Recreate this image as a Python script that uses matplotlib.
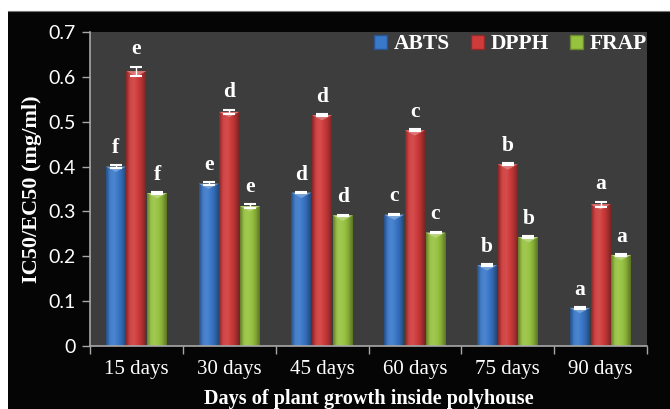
import numpy as np
import matplotlib
matplotlib.use("Agg")
import matplotlib.pyplot as plt
from matplotlib.colors import LinearSegmentedColormap, to_rgb
from matplotlib.patches import Patch, Polygon

# ---- data ----
categories = ["15 days", "30 days", "45 days", "60 days", "75 days", "90 days"]
series = ["ABTS", "DPPH", "FRAP"]
abts = [0.400, 0.362, 0.342, 0.293, 0.180, 0.085]
dpph = [0.613, 0.522, 0.515, 0.481, 0.405, 0.316]
frap = [0.341, 0.312, 0.291, 0.253, 0.243, 0.203]
abts_err = [0.004, 0.003, 0.002, 0.002, 0.002, 0.002]
dpph_err = [0.010, 0.005, 0.002, 0.002, 0.002, 0.006]
frap_err = [0.002, 0.005, 0.002, 0.002, 0.002, 0.002]
abts_letters = ["f", "e", "d", "c", "b", "a"]
dpph_letters = ["e", "d", "d", "c", "b", "a"]
frap_letters = ["f", "e", "d", "c", "b", "a"]
yticks = [0, 0.1, 0.2, 0.3, 0.4, 0.5, 0.6, 0.7]
xlabel = "Days of plant growth inside polyhouse"
ylabel = "IC50/EC50 (mg/ml)"

values = [abts, dpph, frap]
errors = [abts_err, dpph_err, frap_err]
letters = [abts_letters, dpph_letters, frap_letters]
base_colors = ["#3a78c9", "#cf3b3b", "#97c23f"]

SERIF = "Liberation Serif"
SANS = "Lato"

fig = plt.figure(figsize=(6.7, 4.09), dpi=100, facecolor="white")
# black outer frame
bg = fig.add_axes([8 / 670, 0, 1 - 8 / 670, 1 - 11 / 409], zorder=-10)
bg.set_facecolor("#050505")
bg.set_xticks([])
bg.set_yticks([])
for sp in bg.spines.values():
    sp.set_visible(False)
bg.spines["top"].set_visible(True)
bg.spines["top"].set_color("#777777")
bg.spines["top"].set_linewidth(0.8)

ax = fig.add_axes([90 / 670, 1 - 346 / 409, (647 - 90) / 670, (346 - 32) / 409], zorder=1)
ax.set_facecolor("#3d3d3d")

x = np.arange(len(categories))
width = 0.215
step = 0.222


def shade(c, f):
    r = np.array(to_rgb(c))
    if f >= 0:
        return tuple(r + (1 - r) * f)
    return tuple(r * (1 + f))


for s, (vals, errs, labs, col) in enumerate(zip(values, errors, letters, base_colors)):
    pos = x + (s - 1) * step
    bars = ax.bar(pos, vals, width, color=col, zorder=2, linewidth=0)
    cmap = LinearSegmentedColormap.from_list(
        "g", [shade(col, -0.35), shade(col, 0.05), shade(col, 0.1), col, shade(col, -0.15), shade(col, -0.4)])
    grad = np.linspace(0, 1, 64).reshape(1, -1)
    for b, v, e, lab, p in zip(bars, vals, errs, labs, pos):
        im = ax.imshow(grad, extent=(p - width / 2, p + width / 2, 0, v), cmap=cmap,
                       aspect="auto", zorder=2.1, interpolation="bicubic")
        im.set_clip_path(b)
        # top bevel
        tri = Polygon([(p - width / 2, v), (p + width / 2, v), (p, v - 0.012)],
                      closed=True, facecolor=shade(col, 0.3), edgecolor="none", zorder=2.2)
        ax.add_patch(tri)
        ax.errorbar(p, v, yerr=e, fmt="none", ecolor="white", elinewidth=1,
                    capsize=4, capthick=1.5, zorder=3)
        ax.text(p, v + e + 0.016, lab, ha="center", va="bottom", color="white",
                fontsize=15.5, fontweight="bold", family=SERIF, zorder=4)

ax.set_xlim(-0.5, len(categories) - 0.5)
ax.set_ylim(0, 0.7)

# ticks
ax.set_xticks(np.arange(len(categories) + 1) - 0.5)
ax.set_xticklabels([])
ax.set_xticks(x, minor=True)
ax.set_xticklabels(categories, minor=True, family=SERIF, fontsize=15, color="white")
ax.tick_params(axis="x", which="major", length=6, color="#a8a8a8", width=1, direction="out")
ax.tick_params(axis="x", which="minor", length=0, pad=10)
ax.set_yticks(yticks)
ax.set_yticklabels([f"{t:g}" for t in yticks], family=SANS, fontsize=14, color="white")
ax.tick_params(axis="y", length=6, color="#a8a8a8", width=1, direction="out", pad=4)

for sp in ["top", "right"]:
    ax.spines[sp].set_visible(False)
for sp in ["left", "bottom"]:
    ax.spines[sp].set_color("#a8a8a8")
    ax.spines[sp].set_linewidth(1.2)

ax.set_xlabel(xlabel, family=SERIF, fontsize=14.6, fontweight="bold", color="white", labelpad=7)
ax.set_ylabel(ylabel, family=SERIF, fontsize=16, fontweight="bold", color="white", labelpad=5)

handles = [Patch(facecolor=c, edgecolor=shade(c, -0.3), label=n) for c, n in zip(base_colors, series)]
leg = ax.legend(handles=handles, loc="upper right", ncol=3, frameon=False,
                handlelength=0.6, handleheight=0.6, handletextpad=0.3, columnspacing=1.0,
                borderaxespad=0.0, bbox_to_anchor=(1.015, 1.02),
                prop={"family": SERIF, "weight": "bold", "size": 15.5})
for t in leg.get_texts():
    t.set_color("white")
    t.set_fontweight("bold")

fig.savefig("out.png", dpi=100, facecolor=fig.get_facecolor())
